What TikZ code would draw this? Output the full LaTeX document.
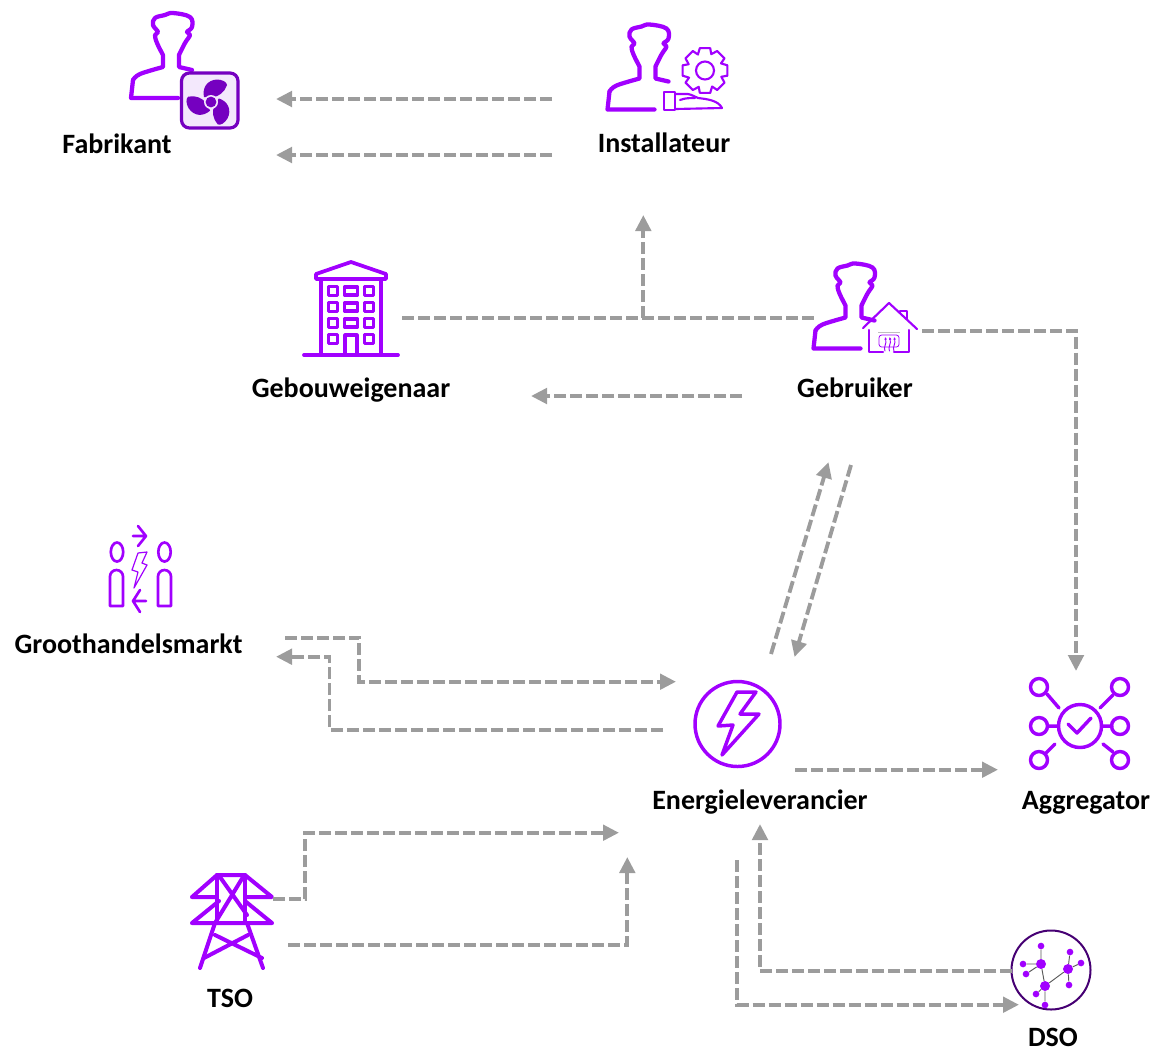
\documentclass[tikz,border=0pt]{standalone}
\usepackage{fontspec}
\setmainfont{Carlito}
\usetikzlibrary{arrows.meta}
\definecolor{vio}{HTML}{A100FF}
\definecolor{deepv}{HTML}{7500C0}
\definecolor{navyv}{HTML}{460073}
\definecolor{palev}{HTML}{F3E8FC}
\definecolor{conn}{HTML}{9C9C9C}
\tikzset{
  icon/.style={draw=vio,line width=2.6pt,line join=round,line cap=round,fill=none},
  iconthin/.style={draw=vio,line width=1.6pt,line join=round,line cap=round,fill=none},
  iconfine/.style={draw=vio,line width=0.9pt,line join=round,line cap=round,fill=none},
  lbl/.style={font=\fontsize{21}{23}\selectfont\bfseries,text=black,inner sep=0pt,anchor=base},
  link/.style={draw=conn,line width=2.9pt,dash pattern=on 9pt off 3pt},
  arrowlink/.style={link,-{Triangle[length=12pt,width=11.5pt]}},
  person/.pic={
    \draw[icon,line width=3.2pt] plot[smooth,tension=0.6] coordinates {(2,-18) (9,-24) (32,-31)}
      -- (32,-43) plot[smooth,tension=0.65] coordinates {(32,-43) (26,-55) (24,-63) (27,-66) (22,-73) (24,-80) (34,-83) (42,-85) (59,-81) (61,-71) (56,-66) (59,-63) (54,-55) (48,-43)}
      -- (48,-31) -- (61,-28);
    \draw[icon,line width=3.2pt] (2,-18) -- (0,0) -- (47,0);
  },
  netdot/.style={circle,fill=vio,inner sep=0pt,minimum size=#1},
  netline/.style={draw=black!65,line width=0.7pt}
}
\begin{document}
\begin{tikzpicture}[x=0.75pt,y=-0.75pt]
\useasboundingbox (0,0) rectangle (1155,1051);

% ---------- labels
\node[lbl] (fab) at (117,153) {Fabrikant};
\node[lbl] (ins) at (664,152) {Installateur};
\node[lbl] (geb) at (351,397) {Gebouweigenaar};
\node[lbl] (gbr) at (855,397) {Gebruiker};
\node[lbl] (gro) at (128.5,653) {Groothandelsmarkt};
\node[lbl] (ene) at (760,809) {Energieleverancier};
\node[lbl] (agg) at (1086,809) {Aggregator};
\node[lbl] (tso) at (230,1007) {TSO};
\node[lbl] (dso) at (1053,1046) {DSO};

% ---------- Fabrikant icon
\pic at (131,98) {person};
\draw[draw=deepv,line width=2.4pt,fill=palev,rounded corners=6pt] (181.5,73) rectangle (238,128);
\foreach \r in {0,120,240}{
  \fill[deepv,rotate around={\r:(211,102)}] (204,97) .. controls (202,88) and (207,80) .. (217,79.5)
    .. controls (222,79.5) and (227,82) .. (227,85) .. controls (225,92) and (218,97) .. (213,97) -- cycle;
}
\fill[palev] (211,102) circle[radius=7];
\fill[deepv] (211,102) circle[radius=5.4];

% ---------- Installateur icon
\pic at (607.5,109.5) {person};
\draw[iconthin] (664,92) rectangle (675,110);
\draw[iconthin] (675,94) -- (688,94) .. controls (693,95) and (695,97) .. (698,98)
  .. controls (706,99) and (718,100) .. (722,108) -- (675,109);
\draw[iconthin] (680,100) .. controls (685,98) and (690,98) .. (695,98);
\draw[iconthin] (705,70.5) circle[radius=9];
\begin{scope}[shift={(705,70.5)}]
\draw[iconthin] (-24:17.5)
  \foreach \a in {0,45,...,315}{ -- ({\a-24}:17.5) -- ({\a-13}:23) -- ({\a+13}:23) -- ({\a+21}:17.5) } -- cycle;
\end{scope}

% ---------- Gebouweigenaar icon
\draw[icon,line width=2.8pt] (316,279) -- (316,274) -- (351,262) -- (386,274) -- (386,279) -- cycle;
\draw[icon,line width=2.8pt] (321,279) -- (321,355) (381,279) -- (381,355);
\draw[icon,line width=2.8pt] (304,355) -- (398,355);
\foreach \y in {291,307,323,339}{
  \draw[icon,line width=2.5pt] (328.5,\y-4.5) rectangle (337.5,\y+4.5);
  \draw[icon,line width=2.5pt] (364.5,\y-4.5) rectangle (373.5,\y+4.5);
}
\foreach \y in {291,307,323}{
  \draw[icon,line width=2.5pt] (344.5,\y-4) rectangle (357.5,\y+4);
}
\draw[icon,line width=2.4pt] (345,355) -- (345,335) -- (357,335) -- (357,355);

% ---------- Gebruiker icon
\pic at (813.5,348.5) {person};
\draw[iconthin] (863,328) -- (889,303) -- (917,329);
\draw[iconthin] (900,313) -- (900,311) -- (907,311) -- (907,319);
\draw[iconthin] (869,330) -- (869,352) -- (883,352);
\draw[iconthin] (909,330) -- (909,352) -- (894,352);
\draw[draw=black!25,line width=0.6pt] (878,332.5) -- (900,332.5);
\draw[iconfine,line width=0.6pt,rounded corners=2pt] (879,335) rectangle (899,347);
\foreach \x in {885,889.5,894}{
  \draw[iconfine,line width=0.7pt,-{Latex[length=2pt,width=2pt]}] (\x,351) .. controls (\x-2,347) and (\x+2,344) .. (\x,337);
}

% ---------- Groothandelsmarkt icon
\draw[iconthin,line width=2pt] (117,552) ellipse[x radius=6.2,y radius=9.5];
\draw[iconthin,line width=2pt] (164.5,552) ellipse[x radius=6.2,y radius=9.5];
\draw[iconthin,line width=2pt] (110,606) -- (110,576.5) arc[start angle=180,end angle=360,radius=6.5] -- (123,606) -- cycle;
\draw[iconthin,line width=2pt] (158,606) -- (158,576.5) arc[start angle=180,end angle=360,radius=6.5] -- (171,606) -- cycle;
\draw[iconthin,line width=2pt] (133,536) -- (145,536) (138,526) -- (146,536) -- (138,546);
\draw[iconthin,line width=2pt] (146,601) -- (133,601) (140,590) -- (133,601) -- (140,612);
\draw[iconfine] (138,553) -- (147,552) -- (142,563) -- (147,565) -- (134,588) -- (138,572) -- (132,570) -- cycle;

% ---------- Energieleverancier icon
\draw[icon] (737.5,724) circle[radius=42.5];
\draw[icon] (737,692) -- (756,692) -- (740,714) -- (759,714) -- (722,755) -- (733,725) -- (718,726) -- cycle;

% ---------- Aggregator icon
\draw[icon] (1080,726) circle[radius=21.5];
\draw[icon] (1068,724) -- (1077,733) -- (1091,718);
\foreach \px/\py in {1039/687,1120/687,1039/726,1120/726,1039/760,1120/760}{
  \draw[icon] (\px,\py) circle[radius=8.5];
}
\draw[icon] (1047,694) -- (1059,708) (1113,695) -- (1100,708)
  (1048,726) -- (1058,726) (1102,726) -- (1112,726)
  (1055,744) -- (1046,753) (1103,744) -- (1113,752);

% ---------- TSO icon
\draw[icon,line width=3pt] (192,897) -- (217,875) -- (245,875) -- (272,897) -- (245,897) (217,897) -- (192,897);
\draw[icon,line width=3pt] (217,875) -- (217,923) (245,875) -- (245,923);
\draw[icon,line width=3pt] (220,877) -- (247,915) (243,877) -- (215,923);
\draw[icon,line width=3pt] (192,923) -- (219,901) (272,923) -- (245,901) (192,923) -- (272,923);
\draw[icon,line width=3pt] (215,923) -- (200,968) (247,923) -- (263,968);
\draw[icon,line width=3pt] (215,935) -- (262,958) (248,935) -- (204,958);

% ---------- DSO icon
\draw[draw=navyv,line width=1.5pt] (1051,970) circle[radius=39.5];
\node[netdot=7.5pt] (na) at (1041,964) {};
\node[netdot=5pt] (na1) at (1041,946) {};
\node[netdot=5pt] (na2) at (1023,964) {};
\node[netdot=5pt] (na3) at (1026,974) {};
\node[netdot=7.5pt] (nb) at (1045,986) {};
\node[netdot=5pt] (nb1) at (1036,994) {};
\node[netdot=5pt] (nb2) at (1045,1005) {};
\node[netdot=7.5pt] (nc) at (1068,969) {};
\node[netdot=5pt] (nc1) at (1070,952) {};
\node[netdot=5pt] (nc2) at (1081,963) {};
\node[netdot=5pt] (nc3) at (1069,985) {};
\draw[netline] (na)--(na1) (na)--(na2) (na)--(na3) (na)--(nb) (nb)--(nb1) (nb)--(nb2) (nb)--(nc) (nc)--(nc1) (nc)--(nc2) (nc)--(nc3);

% ---------- connector ends
\coordinate (a1) at (552,99);   \coordinate (a2) at (276,99);
\coordinate (b1) at (552,155);  \coordinate (b2) at (276,155);
\coordinate (c1) at (402,317.7);  \coordinate (c2) at (815,317.7);
\coordinate (c3) at (643.3,317.7);  \coordinate (c4) at (643.3,215);
\coordinate (d1) at (742,396);  \coordinate (d2) at (531,396);
\coordinate (e1) at (922,330.7);  \coordinate (e2) at (1076,671);
\coordinate (f1) at (771,654);  \coordinate (f2) at (828.5,462);
\coordinate (g1) at (851,465);  \coordinate (g2) at (794.5,657);
\coordinate (h1) at (285,637.7);  \coordinate (h2) at (359.3,660); \coordinate (h3) at (676,681.7);
\coordinate (i1) at (663,729.7);  \coordinate (i2) at (329.5,690); \coordinate (i3) at (276,656.7);
\coordinate (j1) at (795,769.7);  \coordinate (j2) at (998,769.7);
\coordinate (k1) at (273,898.7);  \coordinate (k2) at (305.3,860); \coordinate (k3) at (619,832.7);
\coordinate (l1) at (288,944.7);  \coordinate (l2) at (627.3,857);
\coordinate (m1) at (1012,970.7); \coordinate (m2) at (760,824);
\coordinate (n1) at (737.3,860);  \coordinate (n2) at (1019,1004.7);

% ---------- connectors
\draw[arrowlink] (a1) -- (a2);
\draw[arrowlink] (b1) -- (b2);
\draw[link] (c1) -- (c2);
\draw[arrowlink] (c3) -- (c4);
\draw[arrowlink] (d1) -- (d2);
\draw[arrowlink] (e1) -| (e2);
\draw[arrowlink] (f1) -- (f2);
\draw[arrowlink] (g1) -- (g2);
\draw[arrowlink] (h1) -| (h2) |- (h3);
\draw[arrowlink] (i1) -| (i2) |- (i3);
\draw[arrowlink] (j1) -- (j2);
\draw[arrowlink] (k1) -| (k2) |- (k3);
\draw[arrowlink] (l1) -| (l2);
\draw[arrowlink] (m1) -| (m2);
\draw[arrowlink] (n1) |- (n2);
\end{tikzpicture}
\end{document}
